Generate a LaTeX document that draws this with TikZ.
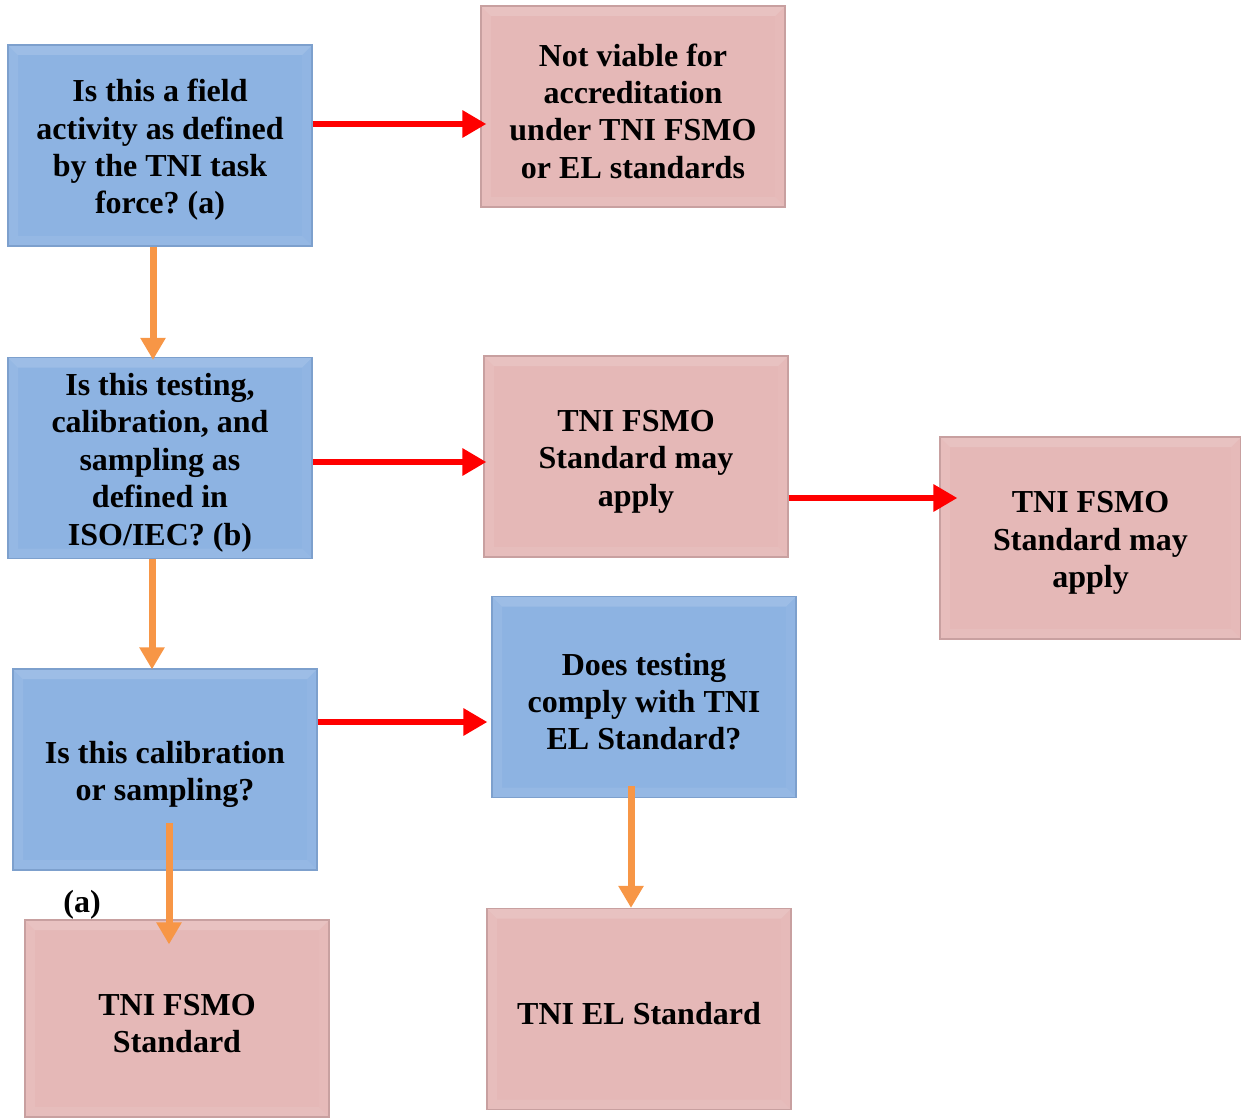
\documentclass[tikz,border=0pt]{standalone}
\usepackage{fontspec}
\setmainfont{Liberation Serif}
\usetikzlibrary{arrows.meta}
\definecolor{qblue}{RGB}{141,179,226}
\definecolor{qblueline}{RGB}{125,160,205}
\definecolor{qpink}{RGB}{229,184,183}
\definecolor{qpinkline}{RGB}{200,160,160}
\definecolor{yesred}{RGB}{255,0,0}
\definecolor{noorange}{RGB}{247,150,70}
% pushes the text block a little down inside its box
\newcommand{\toproom}{\rule{0pt}{15.8pt}}

\tikzset{
  bevel/.style={path picture={
    \coordinate (ll) at (path picture bounding box.south west);
    \coordinate (ur) at (path picture bounding box.north east);
    % light bevel bands
    \fill[white, opacity=0.14] (ll |- ur) -- (ur) -- ([shift={(-5pt,-5pt)}]ur) -- ([shift={(5pt,-5pt)}]ll |- ur) -- cycle;
    \fill[white, opacity=0.08] (ll |- ur) -- ([shift={(5pt,-5pt)}]ll |- ur) -- ([shift={(5pt,5pt)}]ll) -- (ll) -- cycle;
    \fill[white, opacity=0.07] (ll) -- ([shift={(5pt,5pt)}]ll) -- ([shift={(-5pt,5pt)}]ur |- ll) -- (ur |- ll) -- cycle;
    \fill[white, opacity=0.04] (ur |- ll) -- ([shift={(-5pt,5pt)}]ur |- ll) -- ([shift={(-5pt,-5pt)}]ur) -- (ur) -- cycle;
  }},
  box/.style={draw, line width=0.6pt, minimum width=152pt, minimum height=100.5pt,
    align=center, inner sep=2pt, bevel, font=\fontsize{16}{18.7}\selectfont\bfseries},
  question/.style={box, fill=qblue, draw=qblueline},
  outcome/.style={box, fill=qpink, draw=qpinkline},
  redarrow/.style={yesred, line width=3pt, -{Triangle[length=12pt,width=13pt]}},
  orangearrow/.style={noorange, line width=3.5pt, -{Triangle[length=11pt,width=12pt]}}
}

\begin{document}
\frenchspacing
\begin{tikzpicture}[x=0.5pt, y=-0.5pt]
  \useasboundingbox (0,0) rectangle (1241,1118);
  % questions
  \node[question] (field) at (160,145.5) {\toproom Is this a field\\activity as defined\\by the TNI task\\force? (a)};
  \node[question] (iso) at (160,458) {\toproom Is this testing,\\calibration, and\\sampling as\\defined in\\ISO/IEC? (b)};
  \node[question] (calib) at (165,769.5) {\toproom Is this calibration\\or sampling?};
  \node[question] (comply) at (644,697) {\toproom Does testing\\comply with TNI\\EL Standard?};
  % outcomes
  \node[outcome] (notviable) at (633,106.5) {\toproom Not viable for\\accreditation\\under TNI FSMO\\or EL standards};
  \node[outcome] (mayapply) at (636,456.5) {\toproom TNI FSMO\\Standard may\\apply};
  \node[outcome, minimum width=150.5pt, minimum height=101pt] (mayapply2) at (1090.5,538) {\toproom TNI FSMO\\Standard may\\apply};
  \node[outcome, minimum height=98.5pt] (fsmo) at (177,1018.5) {\toproom TNI FSMO\\Standard};
  \node[outcome] (elstd) at (639,1009) {\toproom TNI EL Standard};
  \node[font=\fontsize{16}{18.7}\selectfont\bfseries] (note) at (82,905) {(a)};
  % red arrows
  \draw[redarrow] ([yshift=10.75pt]field.east) -- ([yshift=10.75pt,xshift=3pt]field.east -| notviable.west);
  \draw[redarrow] ([yshift=-2pt]iso.east) -- ([yshift=-2pt,xshift=1.5pt]iso.east -| mayapply.west);
  \draw[redarrow] ([yshift=-20.75pt]mayapply.east) -- ([yshift=-20.75pt,xshift=9pt]mayapply.east -| mayapply2.west);
  \draw[redarrow] ([yshift=23.75pt]calib.east) -- ([yshift=23.75pt,xshift=-2pt]calib.east -| comply.west);
  % orange arrows
  \draw[orangearrow] ([xshift=-3.5pt]field.south) -- ([xshift=-3.5pt,yshift=-1.5pt]field.south |- iso.north);
  \draw[orangearrow] ([xshift=-4pt]iso.south) -- ([xshift=-4pt,yshift=-0.5pt]iso.south |- calib.north);
  \draw[orangearrow] ([xshift=2pt,yshift=24pt]calib.south) -- ([xshift=2pt,yshift=-12.5pt]calib.south |- fsmo.north);
  \draw[orangearrow] ([xshift=-6.5pt,yshift=6pt]comply.south) -- ([xshift=-6.5pt]comply.south |- elstd.north);
\end{tikzpicture}
\end{document}
